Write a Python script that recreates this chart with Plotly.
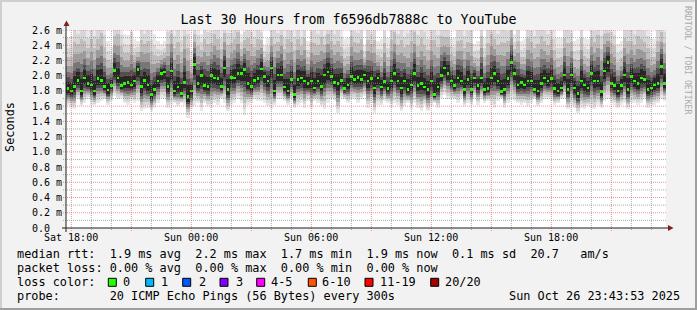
import plotly.graph_objects as go
from datetime import datetime, timedelta

# ---------------- data (ms) ----------------
median_ms = [
    1.83,1.80,1.86,1.94,1.80,1.97,1.90,1.88,1.80,1.96,1.94,1.86,1.81,1.87,2.07,1.97,1.87,1.90,1.91,1.88,1.93,2.08,1.86,1.94,1.88,1.75,1.82,1.93,2.03,2.05,
    1.86,2.06,1.80,1.85,1.77,1.91,1.73,1.80,2.15,1.90,2.00,1.87,1.86,2.00,1.97,1.96,1.86,2.10,1.82,1.98,1.97,2.03,2.03,2.08,1.90,1.86,1.94,1.96,2.09,1.99,
    1.93,2.10,1.80,2.01,2.01,1.85,1.80,1.95,1.75,1.95,1.97,1.93,1.90,1.93,1.84,1.93,1.86,2.01,2.05,1.99,1.91,1.90,1.94,1.83,1.88,1.99,1.95,1.98,1.95,2.01,
    1.93,1.96,1.84,1.97,1.85,1.92,1.83,1.93,2.03,1.93,1.84,1.93,1.82,1.88,2.03,1.87,1.90,1.85,1.82,1.93,1.75,1.85,2.00,2.10,2.03,1.93,1.87,1.97,1.93,1.82,
    1.95,1.82,1.97,1.87,1.97,1.82,1.83,1.97,2.03,1.93,1.79,1.82,1.96,2.17,2.03,1.88,1.91,1.88,1.93,1.93,1.82,1.80,1.90,1.97,1.93,1.96,1.83,1.80,1.84,2.01,
    1.82,2.01,1.84,1.77,1.93,1.88,1.84,2.03,1.93,1.93,1.79,2.06,2.17,1.90,1.87,1.80,1.87,2.01,1.82,1.99,1.93,1.90,1.97,1.95,1.82,1.84,1.88,1.90,2.12,1.90,
]
smoke_low_ms = [
    1.62,1.58,1.56,1.69,1.60,1.64,1.69,1.62,1.61,1.64,1.67,1.69,1.62,1.67,1.73,1.69,1.71,1.64,1.62,1.67,1.64,1.67,1.53,1.56,1.58,1.54,1.58,1.64,1.71,1.69,
    1.58,1.62,1.64,1.60,1.64,1.62,1.45,1.56,1.60,1.64,1.53,1.64,1.60,1.58,1.64,1.62,1.69,1.64,1.53,1.62,1.64,1.69,1.64,1.49,1.62,1.64,1.69,1.67,1.67,1.64,
    1.60,1.56,1.62,1.69,1.69,1.67,1.62,1.69,1.58,1.62,1.64,1.58,1.67,1.56,1.67,1.64,1.60,1.56,1.64,1.69,1.67,1.51,1.71,1.69,1.64,1.69,1.69,1.64,1.69,1.73,
    1.58,1.64,1.51,1.62,1.62,1.67,1.64,1.58,1.64,1.62,1.53,1.60,1.64,1.56,1.64,1.58,1.53,1.62,1.53,1.60,1.64,1.58,1.71,1.75,1.69,1.69,1.69,1.64,1.71,1.60,
    1.64,1.62,1.71,1.62,1.69,1.64,1.67,1.62,1.58,1.67,1.69,1.58,1.64,1.69,1.67,1.64,1.62,1.64,1.60,1.64,1.69,1.60,1.64,1.69,1.69,1.67,1.62,1.64,1.69,1.71,
    1.56,1.60,1.58,1.51,1.58,1.56,1.60,1.58,1.56,1.62,1.58,1.67,1.69,1.64,1.62,1.58,1.62,1.64,1.56,1.64,1.64,1.62,1.64,1.69,1.58,1.60,1.62,1.64,1.69,1.67,
]
smoke_high_ms = [
    2.50,2.52,2.80,2.70,2.90,2.75,2.65,2.85,2.70,2.80,2.95,2.70,2.45,2.38,2.80,2.90,2.70,2.55,2.53,2.75,2.48,2.45,2.85,2.70,2.80,2.65,2.55,2.45,2.42,2.45,
    2.75,2.85,2.70,2.80,2.65,2.90,2.75,2.32,2.80,2.70,2.55,2.85,2.75,2.70,2.90,2.80,2.65,2.85,2.75,2.70,2.80,2.90,2.55,2.70,2.85,2.75,2.65,2.80,2.70,2.40,
    2.50,2.75,2.80,2.70,2.85,2.65,2.90,2.75,2.70,2.80,2.65,2.85,2.45,2.75,2.80,2.70,2.90,2.65,2.85,2.75,2.70,2.80,2.65,2.48,2.50,2.85,2.75,2.70,2.80,2.40,
    2.80,2.70,2.85,2.45,2.48,2.75,2.50,2.80,2.90,2.70,2.85,2.65,2.75,2.80,2.90,2.70,2.85,2.75,2.65,2.80,2.90,2.70,2.85,2.75,2.80,2.50,2.50,2.75,2.80,2.70,
    2.75,2.80,2.42,2.45,2.85,2.50,2.80,2.90,2.75,2.70,2.85,2.80,2.75,2.90,2.55,2.80,2.45,2.48,2.85,2.75,2.70,2.80,2.90,2.75,2.70,2.80,2.65,2.50,2.50,2.80,
    2.80,2.70,2.45,2.48,2.85,2.50,2.48,2.80,2.75,2.90,2.70,2.85,2.80,2.75,2.70,2.42,2.45,2.80,2.85,2.75,2.70,2.90,2.80,2.75,2.70,2.50,2.48,2.80,2.85,2.75,
]
y_tick_values = [0.0,0.2,0.4,0.6,0.8,1.0,1.2,1.4,1.6,1.8,2.0,2.2,2.4,2.6]
y_tick_labels = ["0.0","0.2 m","0.4 m","0.6 m","0.8 m","1.0 m","1.2 m","1.4 m","1.6 m","1.8 m","2.0 m","2.2 m","2.4 m","2.6 m"]
x_tick_times = ["2025-10-25 18:00","2025-10-26 00:00","2025-10-26 06:00","2025-10-26 12:00","2025-10-26 18:00"]
x_tick_labels = ["Sat 18:00","Sun 00:00","Sun 06:00","Sun 12:00","Sun 18:00"]
legend_rows = [
    "median rtt:  1.9 ms avg  2.2 ms max  1.7 ms min  1.9 ms now  0.1 ms sd  20.7   am/s",
    "packet loss: 0.00 % avg  0.00 % max  0.00 % min  0.00 % now",
    "loss color:",
    "probe:       20 ICMP Echo Pings (56 Bytes) every 300s",
]
loss_labels = ["0","1","2","3","4-5","6-10","11-19","20/20"]
loss_colors = ["#26ff00","#00b8ff","#0059ff","#7e00ff","#ff00ff","#ff5500","#ff0000","#a10000"]
title_text = "Last 30 Hours from f6596db7888c to YouTube"
stamp_text = "Sun Oct 26 23:43:53 2025"

# ---------------- geometry helpers ----------------
W, H = 697, 310
L, T, PW, PH = 66, 30, 600, 198
def px(x):
    return (x - L) / PW
def py(y):
    return (T + PH - y) / PH

MONO = "DejaVu Sans Mono"
LEG = 11.85
start = datetime(2025, 10, 25, 17, 45)
step = timedelta(minutes=10)
times = [start + step * (i + 0.5) for i in range(len(median_ms))]
x_range = [datetime(2025, 10, 25, 17, 43, 53), datetime(2025, 10, 26, 23, 43, 53)]

fig = go.Figure()

# smoke layers: (fraction up, fraction down, colour), outer to inner
layers = [
    (1.00, 1.00, "#e8e8e8"),
    (0.80, 0.88, "#d6d6d6"),
    (0.62, 0.75, "#bdbdbd"),
    (0.45, 0.62, "#9c9c9c"),
    (0.32, 0.50, "#767676"),
    (0.22, 0.38, "#4f4f4f"),
    (0.14, 0.25, "#262626"),
]
for fu, fd, col in layers:
    base = [m - fd * (m - lo) for m, lo in zip(median_ms, smoke_low_ms)]
    top = [m + fu * (hi - m) for m, hi in zip(median_ms, smoke_high_ms)]
    fig.add_trace(go.Bar(
        x=times, y=[t - b for t, b in zip(top, base)], base=base,
        width=600000, marker=dict(color=col, line=dict(width=0)),
        hoverinfo="skip", showlegend=False))

# median marks
fig.add_trace(go.Bar(
    x=times, y=[0.035] * len(median_ms), base=[m - 0.0175 for m in median_ms],
    width=480000, marker=dict(color=loss_colors[0], line=dict(width=0)),
    hoverinfo="skip", showlegend=False))

shapes = []
GRID = "rgba(143,143,143,0.75)"
MGRID = "rgba(222,79,79,0.6)"
t = datetime(2025, 10, 25, 18, 0)
while t <= x_range[1]:
    major = t.hour % 3 == 0
    shapes.append(dict(type="line", xref="x", yref="paper", x0=t, x1=t,
                       y0=py(231 if major else 230), y1=1,
                       line=dict(color=MGRID if major else GRID, width=1, dash="1px,1px"), layer="above"))
    t += timedelta(hours=1)
for k in range(1, 27):
    v = k * 0.1
    major = k % 2 == 0
    shapes.append(dict(type="line", xref="paper", yref="y", x0=px(63), x1=1, y0=v, y1=v,
                       line=dict(color=MGRID if major else GRID, width=1, dash="1px,1px"), layer="above"))
AX = "#1f1f1f"
shapes.append(dict(type="line", xref="paper", yref="paper", x0=px(62), x1=px(669), y0=0, y1=0,
                   line=dict(color=AX, width=1), layer="above"))
shapes.append(dict(type="line", xref="paper", yref="paper", x0=0, x1=0, y0=py(232), y1=py(24),
                   line=dict(color=AX, width=1), layer="above"))
ARROW = "#801f1f"
shapes.append(dict(type="path", xref="paper", yref="paper",
                   path=f"M {px(63.5)} {py(26)} L {px(69.5)} {py(26)} L {px(66.5)} {py(20.5)} Z",
                   fillcolor=ARROW, line=dict(width=0), layer="above"))
shapes.append(dict(type="path", xref="paper", yref="paper",
                   path=f"M {px(668)} {py(225)} L {px(668)} {py(231)} L {px(673.5)} {py(228)} Z",
                   fillcolor=ARROW, line=dict(width=0), layer="above"))
shapes.append(dict(type="rect", xref="paper", yref="paper", x0=px(0), x1=px(697), y0=py(310), y1=py(308),
                   fillcolor="#9e9e9e", line=dict(width=0), layer="below"))
shapes.append(dict(type="rect", xref="paper", yref="paper", x0=px(695), x1=px(697), y0=py(310), y1=py(0),
                   fillcolor="#9e9e9e", line=dict(width=0), layer="below"))
shapes.append(dict(type="rect", xref="paper", yref="paper", x0=px(0), x1=px(695), y0=py(2), y1=py(0),
                   fillcolor="#cfcfcf", line=dict(width=0), layer="below"))
shapes.append(dict(type="rect", xref="paper", yref="paper", x0=px(0), x1=px(2), y0=py(308), y1=py(0),
                   fillcolor="#cfcfcf", line=dict(width=0), layer="below"))

annotations = []
NB = "\u00a0"
for v, lab in zip(y_tick_values, y_tick_labels):
    annotations.append(dict(xref="paper", yref="y", x=px(30.5), y=v, text=lab.replace(" ", NB),
                            xanchor="left", yanchor="middle", showarrow=False, borderpad=0,
                            font=dict(family=MONO, size=10, color="#000")))
for tv, lab in zip(x_tick_times, x_tick_labels):
    annotations.append(dict(xref="x", yref="paper", x=tv, y=py(237.5), text=lab.replace(" ", NB),
                            xanchor="center", yanchor="middle", showarrow=False, borderpad=0,
                            font=dict(family=MONO, size=10, color="#000")))
annotations.append(dict(xref="paper", yref="paper", x=px(10), y=py(127), text="Seconds", textangle=-90,
                        xanchor="center", yanchor="middle", showarrow=False, borderpad=0,
                        font=dict(family=MONO, size=LEG, color="#000")))
annotations.append(dict(xref="paper", yref="paper", x=px(688), y=py(60), text="RRDTOOL / TOBI OETIKER".replace(" ", NB),
                        textangle=90, xanchor="center", yanchor="middle", showarrow=False, borderpad=0,
                        font=dict(family=MONO, size=8.2, color="#aaaaaa")))
row_y = [254, 268, 282, 296]
for txt, yy in zip(legend_rows, row_y):
    annotations.append(dict(xref="paper", yref="paper", x=px(15.5), y=py(yy), text=txt.replace(" ", NB),
                            xanchor="left", yanchor="middle", showarrow=False, borderpad=0,
                            font=dict(family=MONO, size=LEG, color="#000")))
annotations.append(dict(xref="paper", yref="paper", x=px(681), y=py(296), text=stamp_text.replace(" ", NB),
                        xanchor="right", yanchor="middle", showarrow=False, borderpad=0,
                        font=dict(family=MONO, size=LEG, color="#000")))
box_x = [108.3, 145.7, 182.7, 220, 256.7, 308.3, 365, 430.7]
lab_x = [122.3, 159.5, 197.5, 235.5, 270, 320.5, 378.5, 444]
for bx, lx, lab, col in zip(box_x, lab_x, loss_labels, loss_colors):
    shapes.append(dict(type="rect", xref="paper", yref="paper", x0=px(bx), x1=px(bx + 8),
                       y0=py(286.3), y1=py(278.3), fillcolor=col, line=dict(color="#000", width=1), layer="above"))
    annotations.append(dict(xref="paper", yref="paper", x=px(lx), y=py(282), text=lab,
                            xanchor="left", yanchor="middle", showarrow=False, borderpad=0,
                            font=dict(family=MONO, size=LEG, color="#000")))

fig.update_layout(
    width=W, height=H,
    margin=dict(l=L, r=W - L - PW, t=T, b=H - T - PH),
    paper_bgcolor="#f2f2f2", plot_bgcolor="#ffffff",
    barmode="overlay", bargap=0,
    title=dict(text=title_text, x=0.5, xanchor="center", xref="container",
               y=1 - 19 / H, yanchor="middle", yref="container",
               font=dict(family=MONO, size=13.3, color="#000")),
    xaxis=dict(type="date", range=x_range, showgrid=False, showticklabels=False,
               zeroline=False, showline=False, ticks="", fixedrange=True),
    yaxis=dict(range=[0, 2.6], showgrid=False, showticklabels=False,
               zeroline=False, showline=False, ticks="", fixedrange=True),
    shapes=shapes, annotations=annotations, showlegend=False,
)

fig.write_html("out.html")
